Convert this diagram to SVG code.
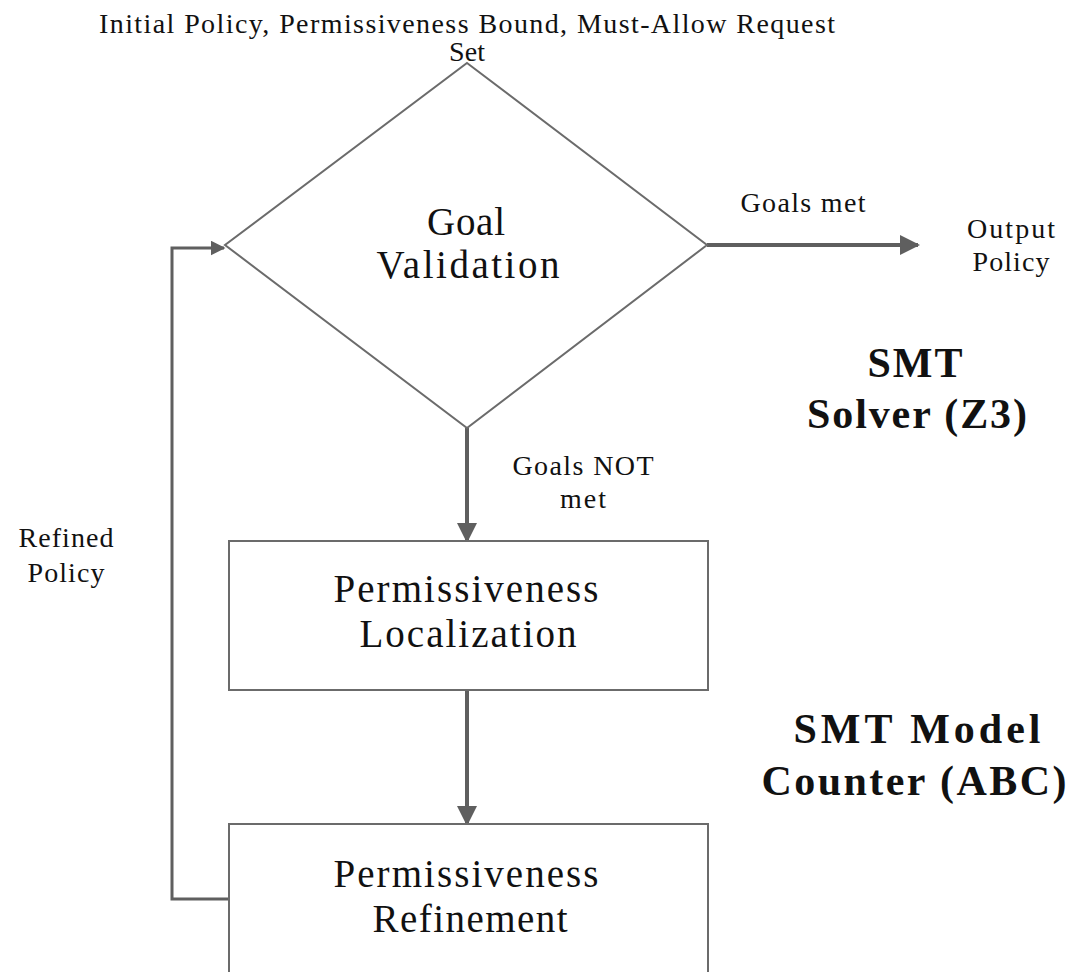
<svg xmlns="http://www.w3.org/2000/svg" width="1086" height="972" viewBox="0 0 1086 972">
<defs>
<style>
.t{font-family:"Liberation Serif","DejaVu Serif",serif;fill:#111;text-anchor:middle}
.s{font-size:28px}
.m{font-size:39px}
.b{font-size:42px;font-weight:bold}
.shape{fill:#fff;stroke:#6b6b6b;stroke-width:2}
.c{fill:none;stroke:#5f5f5f;stroke-width:4}
</style>
<marker id="ah" markerWidth="5" markerHeight="5" refX="4.5" refY="2.5" orient="auto" markerUnits="strokeWidth"><path d="M0,0 L5,2.5 L0,5 Z" fill="#5f5f5f"/></marker>
</defs>
<rect width="1086" height="972" fill="#fff"/>
<g id="input-label"><text class="t s" x="467" y="33" textLength="736">Initial Policy, Permissiveness Bound, Must-Allow Request</text><text class="t s" x="467" y="61" textLength="36">Set</text></g>
<g id="connectors">
<path class="c" d="M707,245 H918" marker-end="url(#ah)"/>
<path class="c" d="M467,428 V541" marker-end="url(#ah)"/>
<path class="c" d="M467,690 V824" marker-end="url(#ah)"/>
<path class="c" style="stroke-width:3" d="M229,899 H172 V248 H224" marker-end="url(#ah)"/>
</g>
<g id="goal-validation"><path class="shape" d="M467,63 L707,245 L467,428 L225,245 Z"/><text class="t m" x="466" y="235" textLength="78">Goal</text><text class="t m" x="468" y="278" textLength="183">Validation</text></g>
<g id="permissiveness-localization"><rect class="shape" x="229" y="541" width="479" height="149"/><text class="t m" x="466" y="602" textLength="265">Permissiveness</text><text class="t m" x="468" y="647" textLength="217">Localization</text></g>
<g id="permissiveness-refinement"><rect class="shape" x="229" y="824" width="479" height="160"/><text class="t m" x="466" y="887" textLength="265">Permissiveness</text><text class="t m" x="470" y="932" textLength="195">Refinement</text></g>
<g id="labels">
<text class="t s" x="803" y="212" textLength="125">Goals met</text>
<text class="t s" x="1011" y="238" textLength="88">Output</text><text class="t s" x="1011" y="271" textLength="77">Policy</text>
<text class="t s" x="583" y="475" textLength="141">Goals NOT</text><text class="t s" x="583" y="508" textLength="46">met</text>
<text class="t s" x="66" y="547" textLength="95">Refined</text><text class="t s" x="66" y="582" textLength="77">Policy</text>
<text class="t b" x="915" y="377" textLength="95">SMT</text><text class="t b" x="917" y="428" textLength="220">Solver (Z3)</text>
<text class="t b" x="917" y="743" textLength="247">SMT Model</text><text class="t b" x="914" y="795" textLength="305">Counter (ABC)</text>
</g>
</svg>
